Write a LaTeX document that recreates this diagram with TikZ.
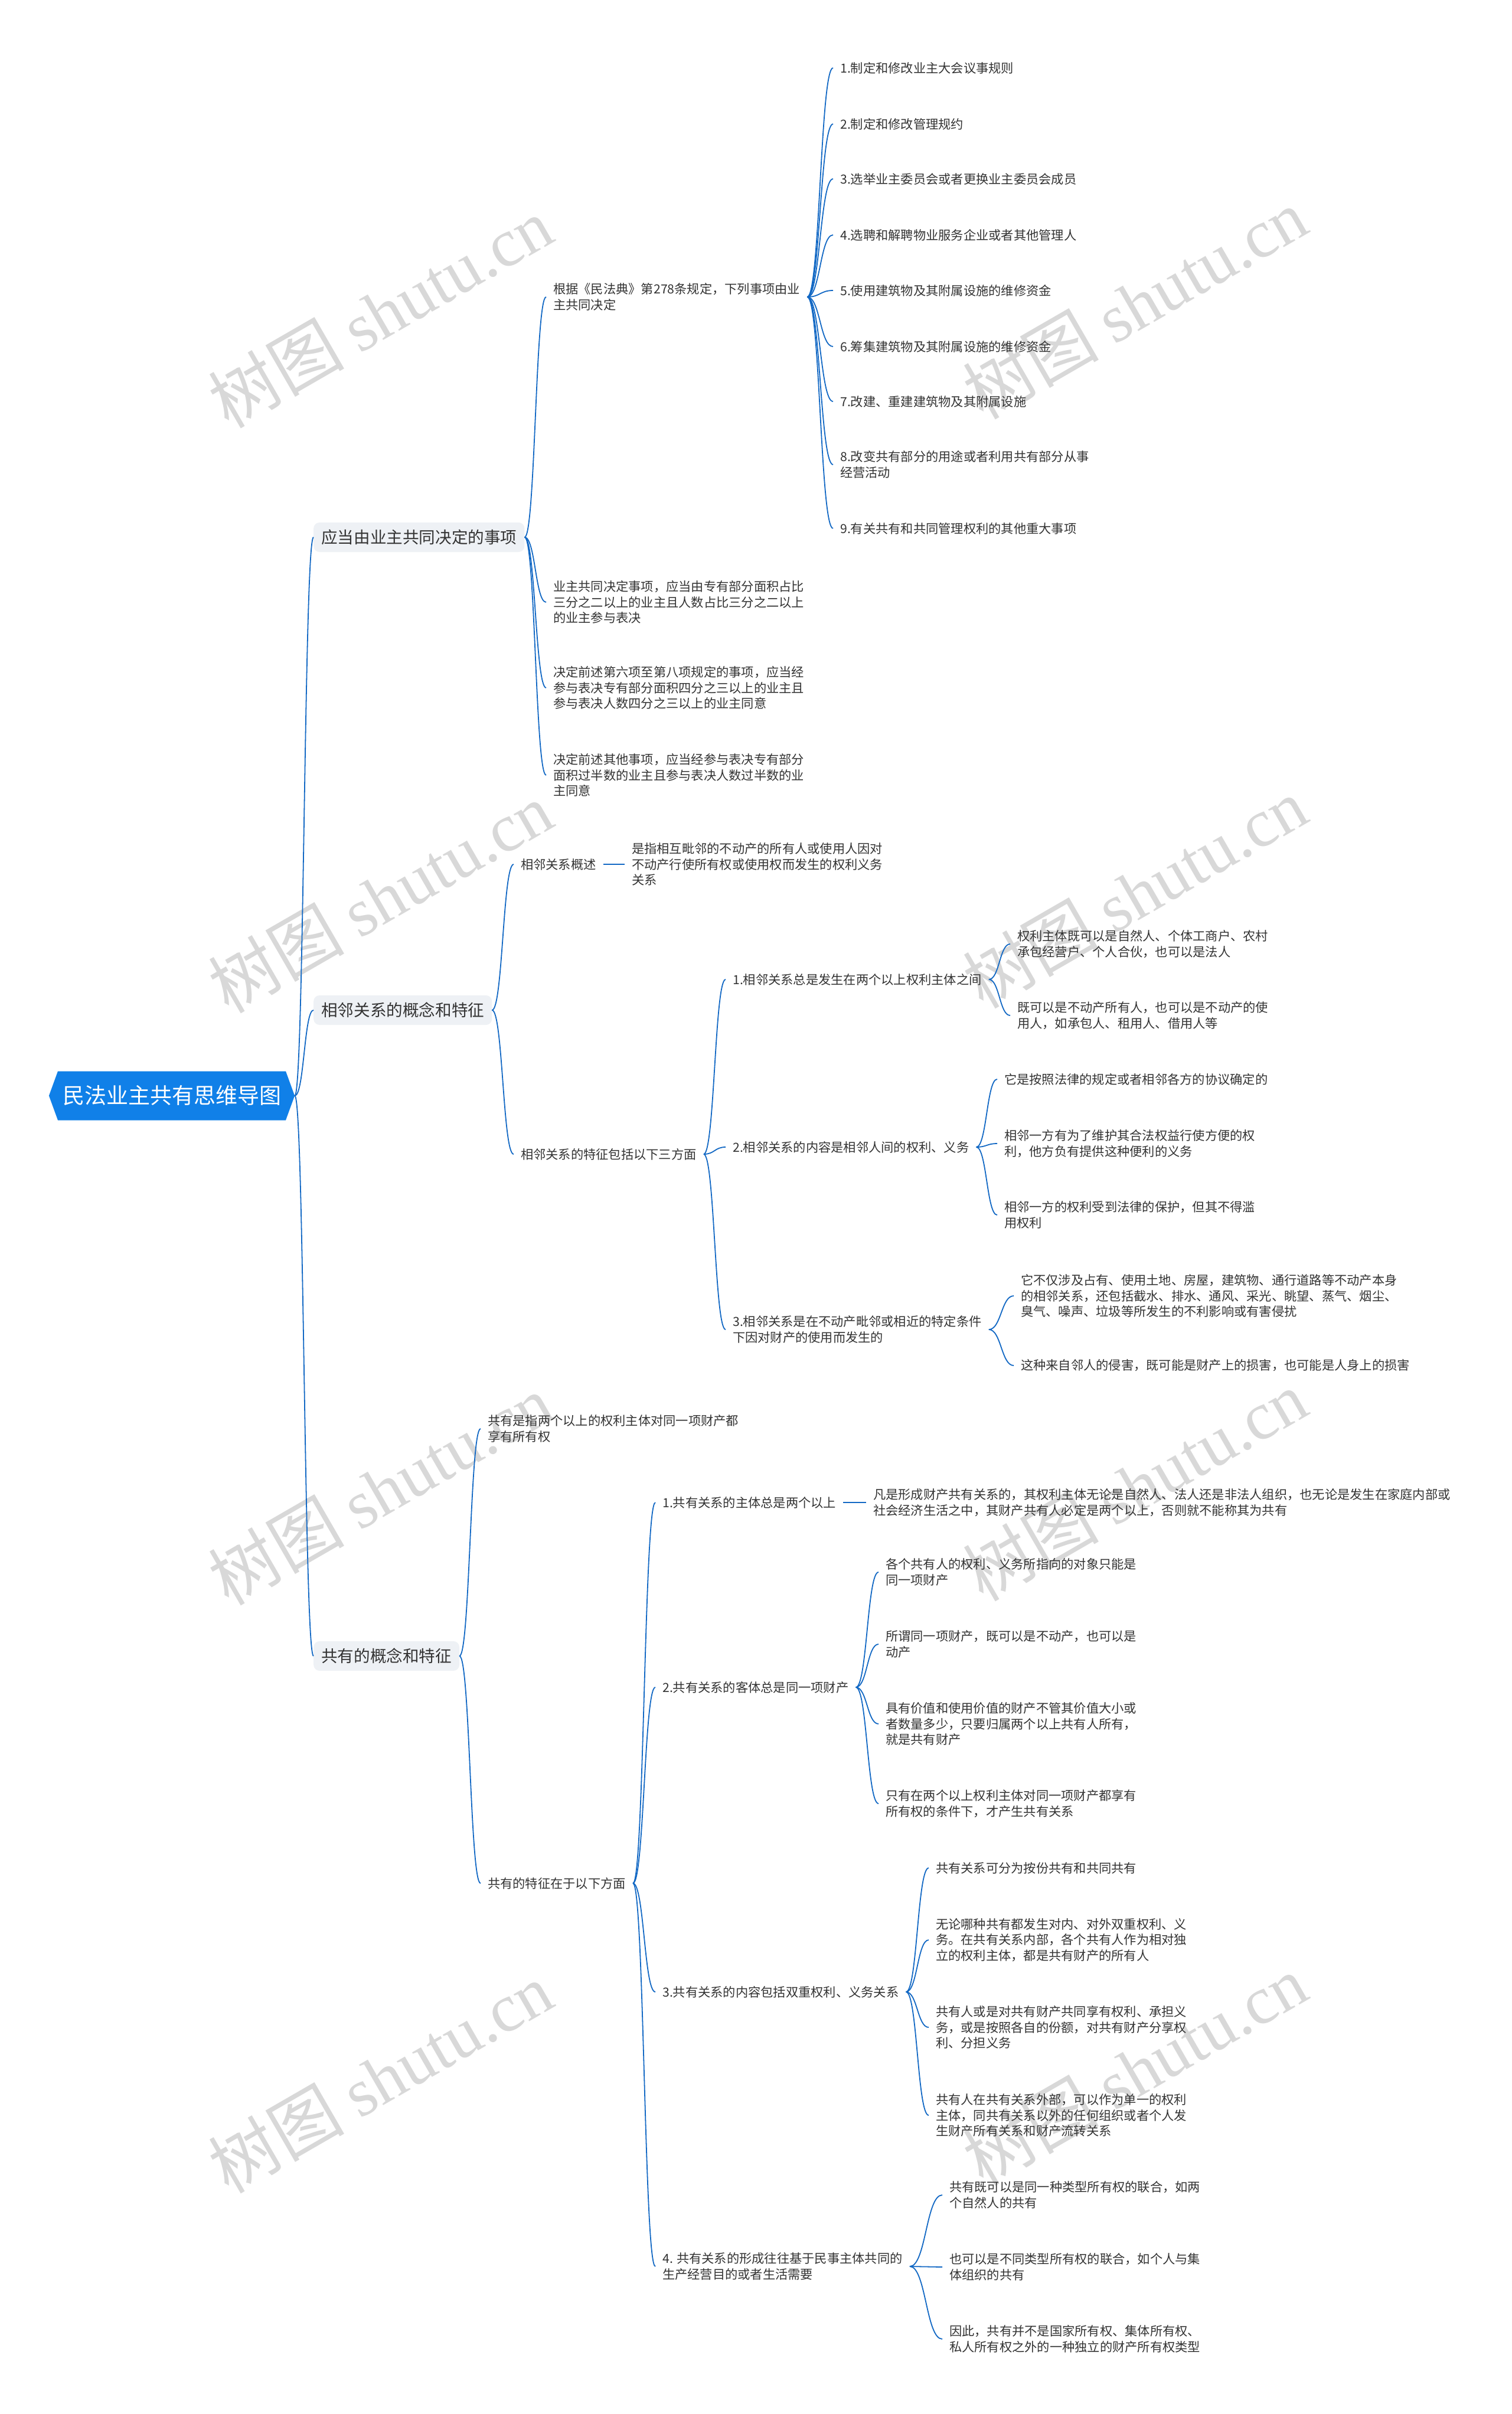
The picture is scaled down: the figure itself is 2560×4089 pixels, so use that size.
\documentclass[tikz,border=0pt]{standalone}
\usepackage{fontspec}
\setmainfont{Noto Sans CJK SC}
\newfontfamily\wmserif{Liberation Serif}
\usetikzlibrary{shapes.symbols, calc, positioning}

\definecolor{rootblue}{RGB}{16,128,232}
\definecolor{linkblue}{RGB}{18,104,196}
\definecolor{branchgray}{RGB}{238,241,245}
\definecolor{inkgray}{RGB}{51,51,51}
\definecolor{wmgray}{RGB}{216,216,216}

\newcommand{\leaffont}{\fontsize{21.25pt}{26.7pt}\selectfont}
\newcommand{\branchfont}{\fontsize{27.6pt}{33pt}\selectfont}
\newcommand{\rootfont}{\fontsize{37pt}{44pt}\selectfont}
\newcommand{\wmfont}{\fontsize{115pt}{115pt}\selectfont}
% curved connector from the right side of #1 to the left side of #2
\newcommand{\twig}[2]{\draw[link] (#1.east) .. controls ($(#1.east)!0.5!(#1.east -| #2.west)$) and ($(#2.west)!0.5!(#2.west -| #1.east)$) .. (#2.west);}

\begin{document}
\begin{tikzpicture}[
    x=1pt, y=-1pt,
    rootbox/.style={signal, signal to=west and east, signal pointer angle=140, fill=rootblue, text=white, font=\rootfont, minimum height=83pt, inner xsep=8pt},
    branch/.style={rectangle, fill=branchgray, rounded corners=10pt, text=inkgray, font=\branchfont, minimum height=50pt, inner xsep=13pt, anchor=west},
    leaf/.style={text=inkgray, font=\leaffont, align=left, inner xsep=12pt, inner ysep=3pt, anchor=west},
    wm/.style={text=wmgray, font=\wmfont, rotate=30, inner sep=0pt},
    link/.style={draw=linkblue, line width=1.8pt}
]
    \fill[white] (0,0) rectangle (2560,4089);
    \useasboundingbox (0,0) rectangle (2560,4089);

    % Watermarks
    \foreach \wx/\wy in {644/529, 1922/514, 644/1520, 1922/1512, 644/2523, 1922/2516, 644/3519, 1922/3506}
        \node[wm] at (\wx,\wy) {树图 {\wmserif shutu.cn}};

    % Root and main branches
    \node (root) [rootbox] at (291,1856) {民法业主共有思维导图};
    \node (decide) [branch] at (531,910) {应当由业主共同决定的事项};
    \node (neighbor) [branch] at (531,1711) {相邻关系的概念和特征};
    \node (coown) [branch] at (531,2805) {共有的概念和特征};

    % Branch 1
    \node (basis) [leaf] at (925,503) {根据《民法典》第278条规定，下列事项由业\\主共同决定};
    \node (vote1) [leaf] at (925,1020) {业主共同决定事项，应当由专有部分面积占比\\三分之二以上的业主且人数占比三分之二以上\\的业主参与表决};
    \node (vote2) [leaf] at (925,1165) {决定前述第六项至第八项规定的事项，应当经\\参与表决专有部分面积四分之三以上的业主且\\参与表决人数四分之三以上的业主同意};
    \node (vote3) [leaf] at (925,1313) {决定前述其他事项，应当经参与表决专有部分\\面积过半数的业主且参与表决人数过半数的业\\主同意};
    \foreach \y/\txt [count=\i] in {115/{1.制定和修改业主大会议事规则}, 210/{2.制定和修改管理规约}, 303/{3.选举业主委员会或者更换业主委员会成员}, 398/{4.选聘和解聘物业服务企业或者其他管理人}, 492/{5.使用建筑物及其附属设施的维修资金}, 587/{6.筹集建筑物及其附属设施的维修资金}, 680/{7.改建、重建建筑物及其附属设施}, 787/{8.改变共有部分的用途或者利用共有部分从事\\经营活动}, 895/{9.有关共有和共同管理权利的其他重大事项}}
        \node (item\i) [leaf] at (1411,\y) {\txt};

    % Branch 2
    \node (nbsum) [leaf] at (870,1464) {相邻关系概述};
    \node (nbdef) [leaf] at (1058,1464) {是指相互毗邻的不动产的所有人或使用人因对\\不动产行使所有权或使用权而发生的权利义务\\关系};
    \node (nbfeat) [leaf] at (870,1955) {相邻关系的特征包括以下三方面};
    \node (nb1) [leaf] at (1229,1659) {1.相邻关系总是发生在两个以上权利主体之间};
    \node (nb1a) [leaf] at (1711,1599) {权利主体既可以是自然人、个体工商户、农村\\承包经营户、个人合伙，也可以是法人};
    \node (nb1b) [leaf] at (1711,1720) {既可以是不动产所有人，也可以是不动产的使\\用人，如承包人、租用人、借用人等};
    \node (nb2) [leaf] at (1229,1943) {2.相邻关系的内容是相邻人间的权利、义务};
    \node (nb2a) [leaf] at (1689,1828) {它是按照法律的规定或者相邻各方的协议确定的};
    \node (nb2b) [leaf] at (1689,1937) {相邻一方有为了维护其合法权益行使方便的权\\利，他方负有提供这种便利的义务};
    \node (nb2c) [leaf] at (1689,2058) {相邻一方的权利受到法律的保护，但其不得滥\\用权利};
    \node (nb3) [leaf] at (1229,2252) {3.相邻关系是在不动产毗邻或相近的特定条件\\下因对财产的使用而发生的};
    \node (nb3a) [leaf] at (1717,2195) {它不仅涉及占有、使用土地、房屋，建筑物、通行道路等不动产本身\\的相邻关系，还包括截水、排水、通风、采光、眺望、蒸气、烟尘、\\臭气、噪声、垃圾等所发生的不利影响或有害侵扰};
    \node (nb3b) [leaf] at (1717,2313) {这种来自邻人的侵害，既可能是财产上的损害，也可能是人身上的损害};

    % Branch 3
    \node (codef) [leaf] at (814,2420) {共有是指两个以上的权利主体对同一项财产都\\享有所有权};
    \node (cofeat) [leaf] at (814,3190) {共有的特征在于以下方面};
    \node (co1) [leaf] at (1110,2545) {1.共有关系的主体总是两个以上};
    \node (co1a) [leaf] at (1467,2545) {凡是形成财产共有关系的，其权利主体无论是自然人、法人还是非法人组织，也无论是发生在家庭内部或\\社会经济生活之中，其财产共有人必定是两个以上，否则就不能称其为共有};
    \node (co2) [leaf] at (1110,2858) {2.共有关系的客体总是同一项财产};
    \node (co2a) [leaf] at (1488,2663) {各个共有人的权利、义务所指向的对象只能是\\同一项财产};
    \node (co2b) [leaf] at (1488,2785) {所谓同一项财产，既可以是不动产，也可以是\\动产};
    \node (co2c) [leaf] at (1488,2920) {具有价值和使用价值的财产不管其价值大小或\\者数量多少，只要归属两个以上共有人所有，\\就是共有财产};
    \node (co2d) [leaf] at (1488,3055) {只有在两个以上权利主体对同一项财产都享有\\所有权的条件下，才产生共有关系};
    \node (co3) [leaf] at (1110,3374) {3.共有关系的内容包括双重权利、义务关系};
    \node (co3a) [leaf] at (1573,3164) {共有关系可分为按份共有和共同共有};
    \node (co3b) [leaf] at (1573,3286) {无论哪种共有都发生对内、对外双重权利、义\\务。在共有关系内部，各个共有人作为相对独\\立的权利主体，都是共有财产的所有人};
    \node (co3c) [leaf] at (1573,3434) {共有人或是对共有财产共同享有权利、承担义\\务，或是按照各自的份额，对共有财产分享权\\利、分担义务};
    \node (co3d) [leaf] at (1573,3583) {共有人在共有关系外部，可以作为单一的权利\\主体，同共有关系以外的任何组织或者个人发\\生财产所有关系和财产流转关系};
    \node (co4) [leaf] at (1110,3839) {4. 共有关系的形成往往基于民事主体共同的\\生产经营目的或者生活需要};
    \node (co4a) [leaf] at (1596,3718) {共有既可以是同一种类型所有权的联合，如两\\个自然人的共有};
    \node (co4b) [leaf] at (1596,3840) {也可以是不同类型所有权的联合，如个人与集\\体组织的共有};
    \node (co4c) [leaf] at (1596,3962) {因此，共有并不是国家所有权、集体所有权、\\私人所有权之外的一种独立的财产所有权类型};

    % Connectors
    \foreach \b in {decide, neighbor, coown} \twig{root}{\b};
    \foreach \c in {basis, vote1, vote2, vote3} \twig{decide}{\c};
    \foreach \i in {1,...,9} \twig{basis}{item\i};
    \foreach \c in {nbsum, nbfeat} \twig{neighbor}{\c};
    \draw [link] (nbsum) -- (nbdef);
    \foreach \c in {nb1, nb2, nb3} \twig{nbfeat}{\c};
    \foreach \c in {nb1a, nb1b} \twig{nb1}{\c};
    \foreach \c in {nb2a, nb2b, nb2c} \twig{nb2}{\c};
    \foreach \c in {nb3a, nb3b} \twig{nb3}{\c};
    \foreach \c in {codef, cofeat} \twig{coown}{\c};
    \foreach \c in {co1, co2, co3, co4} \twig{cofeat}{\c};
    \draw [link] (co1) -- (co1a);
    \foreach \c in {co2a, co2b, co2c, co2d} \twig{co2}{\c};
    \foreach \c in {co3a, co3b, co3c, co3d} \twig{co3}{\c};
    \foreach \c in {co4a, co4b, co4c} \twig{co4}{\c};

\end{tikzpicture}
\end{document}
